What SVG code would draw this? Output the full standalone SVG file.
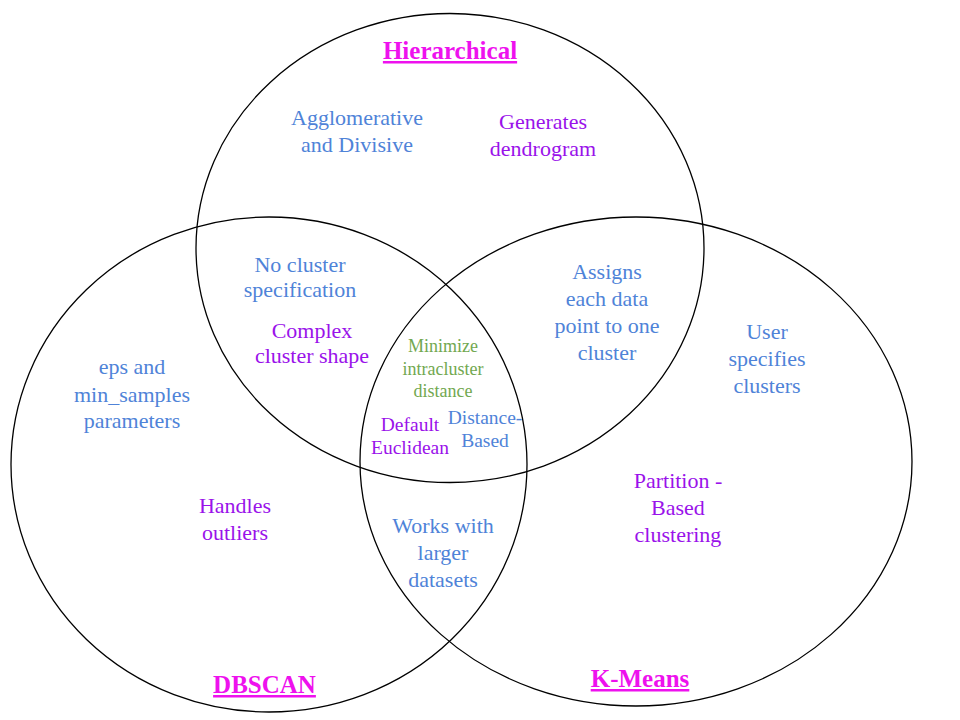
<svg xmlns="http://www.w3.org/2000/svg" width="960" height="720" viewBox="0 0 960 720">
  <style>
    .set { fill: none; stroke: #000000; stroke-width: 1.3; }
    text { font-family: "Liberation Serif", "Times New Roman", serif; text-anchor: middle; }
    .title { font-size: 25px; font-weight: bold; fill: #ee11ee; text-decoration: underline; }
    .blue { font-size: 22px; fill: #4f83d8; }
    .purple { font-size: 22px; fill: #9a12ea; }
    .green { font-size: 18px; fill: #72a850; }
    .sm { font-size: 19.5px; }
  </style>
  <rect x="0" y="0" width="960" height="720" fill="#ffffff"/>
  <g id="connectors"></g>
  <g id="hierarchical">
    <ellipse class="set" cx="450" cy="248" rx="254" ry="234.5"/>
    <text class="title" x="450" y="59">Hierarchical</text>
  </g>
  <g id="dbscan">
    <ellipse class="set" cx="269" cy="464.5" rx="258" ry="247.5"/>
    <text class="title" x="264.5" y="693">DBSCAN</text>
  </g>
  <g id="kmeans">
    <ellipse class="set" cx="636" cy="461.5" rx="276" ry="244.5"/>
    <text class="title" x="640" y="687">K-Means</text>
  </g>
  <g id="agglomerative">
    <text class="blue" x="357" y="125">Agglomerative</text>
    <text class="blue" x="357" y="152">and Divisive</text>
  </g>
  <g id="dendrogram">
    <text class="purple" x="543" y="129">Generates</text>
    <text class="purple" x="543" y="156">dendrogram</text>
  </g>
  <g id="no-cluster-spec">
    <text class="blue" x="300" y="272">No cluster</text>
    <text class="blue" x="300" y="297">specification</text>
  </g>
  <g id="complex-shape">
    <text class="purple" x="312" y="338">Complex</text>
    <text class="purple" x="312" y="363">cluster shape</text>
  </g>
  <g id="eps-params">
    <text class="blue" x="132" y="374">eps and</text>
    <text class="blue" x="132" y="402">min_samples</text>
    <text class="blue" x="132" y="428">parameters</text>
  </g>
  <g id="assigns">
    <text class="blue" x="607" y="279">Assigns</text>
    <text class="blue" x="607" y="306">each data</text>
    <text class="blue" x="607" y="333">point to one</text>
    <text class="blue" x="607" y="360">cluster</text>
  </g>
  <g id="user-specifies">
    <text class="blue" x="767" y="339">User</text>
    <text class="blue" x="767" y="366">specifies</text>
    <text class="blue" x="767" y="393">clusters</text>
  </g>
  <g id="minimize">
    <text class="green" x="443" y="352">Minimize</text>
    <text class="green" x="443" y="375">intracluster</text>
    <text class="green" x="443" y="397">distance</text>
  </g>
  <g id="euclidean">
    <text class="purple sm" x="410" y="431">Default</text>
    <text class="purple sm" x="410" y="454">Euclidean</text>
  </g>
  <g id="distance-based">
    <text class="blue sm" x="485" y="424">Distance-</text>
    <text class="blue sm" x="485" y="447">Based</text>
  </g>
  <g id="outliers">
    <text class="purple" x="235" y="513">Handles</text>
    <text class="purple" x="235" y="540">outliers</text>
  </g>
  <g id="larger-datasets">
    <text class="blue" x="443" y="533">Works with</text>
    <text class="blue" x="443" y="560">larger</text>
    <text class="blue" x="443" y="587">datasets</text>
  </g>
  <g id="partition">
    <text class="purple" x="678" y="488">Partition -</text>
    <text class="purple" x="678" y="515">Based</text>
    <text class="purple" x="678" y="542">clustering</text>
  </g>
</svg>
